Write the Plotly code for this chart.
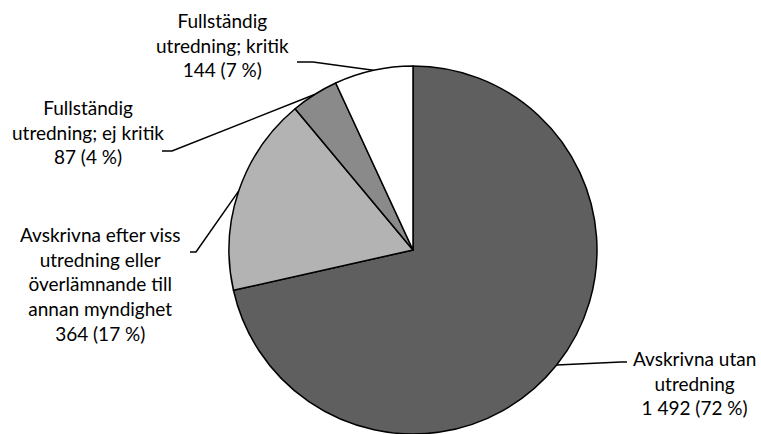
import math
import plotly.graph_objects as go

# Data
categories = [
    "Avskrivna utan<br>utredning",
    "Avskrivna efter viss<br>utredning eller<br>överlämnande till<br>annan myndighet",
    "Fullständig<br>utredning; ej kritik",
    "Fullständig<br>utredning; kritik",
]
values = [1492, 364, 87, 144]
percent_labels = ["72 %", "17 %", "4 %", "7 %"]
value_labels = ["1 492", "364", "87", "144"]
colors = ["#5f5f5f", "#b3b3b3", "#8a8a8a", "#ffffff"]

W, H = 761, 434
CX, CY, R = 413, 250, 184  # pie geometry in pixels

def px(x):
    return x / W

def py(y):
    return 1 - y / H

fig = go.Figure(go.Pie(
    values=values,
    labels=[c.replace("<br>", " ") for c in categories],
    marker=dict(colors=colors, line=dict(color="black", width=1.5)),
    sort=False,
    direction="clockwise",
    rotation=0,
    textinfo="none",
    hoverinfo="label+value+percent",
    domain=dict(x=[px(CX - R), px(CX + R)], y=[max(0, py(CY + R)), py(CY - R)]),
    showlegend=False,
))

# label placements (pixel centres) and leader elbow points
label_pos = [(694, 383), (100, 284), (88, 132), (223, 45)]
elbows = [
    [(627, 362), (621, 362)],
    [(190, 252), (196, 252)],
    [(162, 151), (172, 151)],
    [(297, 62), (313, 62)],
]

total = sum(values)
cum = 0
shapes = []
annotations = []
for i, v in enumerate(values):
    mid = (cum + v / 2) / total * 2 * math.pi
    cum += v
    ex = CX + R * math.sin(mid)
    ey = CY - R * math.cos(mid)
    pts = elbows[i] + [(ex, ey)]
    path = "M " + " L ".join(f"{px(x):.5f},{py(y):.5f}" for x, y in pts)
    shapes.append(dict(type="path", path=path, xref="paper", yref="paper",
                       line=dict(color="black", width=1.5)))
    lx, ly = label_pos[i]
    annotations.append(dict(
        x=px(lx), y=py(ly), xref="paper", yref="paper",
        text=f"{categories[i]}<br>{value_labels[i]} ({percent_labels[i]})",
        showarrow=False, align="center", xanchor="center", yanchor="middle",
        font=dict(family="Lato, Noto Sans, sans-serif", size=19, color="black"),
    ))

fig.update_layout(
    width=W, height=H,
    margin=dict(l=0, r=0, t=0, b=0),
    paper_bgcolor="white", plot_bgcolor="white",
    shapes=shapes, annotations=annotations,
)

fig.write_html("out.html")
